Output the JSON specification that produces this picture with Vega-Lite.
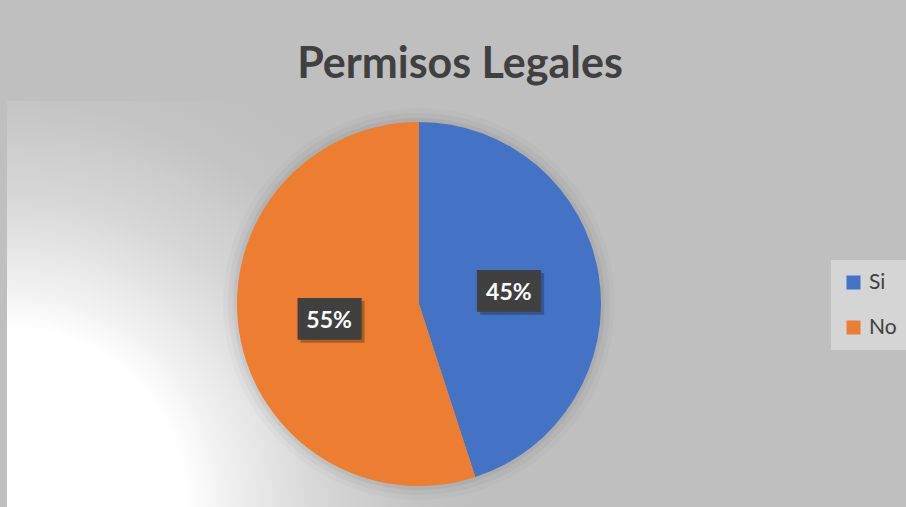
{
  "$schema": "https://vega.github.io/schema/vega-lite/v6.json",
  "autosize": {"type": "none"},
  "width": 824,
  "height": 406,
  "padding": {"left": 7, "top": 101, "right": 75, "bottom": 0},
  "background": "#BFBFBF",
  "view": {
    "stroke": null,
    "fill": {
      "gradient": "radial",
      "x1": 0, "y1": 0.746, "r1": 0,
      "x2": 0, "y2": 0.746, "r2": 0.57,
      "stops": [
        {"offset": 0, "color": "#ffffff"},
        {"offset": 0.38, "color": "#ffffff"},
        {"offset": 0.46, "color": "#f2f2f2"},
        {"offset": 0.653, "color": "#d8d8d8"},
        {"offset": 0.866, "color": "#c4c4c4"},
        {"offset": 1, "color": "#bfbfbf"}
      ]
    }
  },
  "title": {
    "text": "Permisos Legales",
    "font": "Lato",
    "fontSize": 43,
    "fontWeight": "bold",
    "color": "#404040",
    "anchor": "middle",
    "frame": "group",
    "dx": 41,
    "dy": 42,
    "baseline": "alphabetic",
    "offset": 22
  },
  "data": {
    "values": [
      {"categoria": "Si", "valor": 45, "etiqueta": "45%", "orden": 1},
      {"categoria": "No", "valor": 55, "etiqueta": "55%", "orden": 2}
    ]
  },
  "encoding": {
    "theta": {"field": "valor", "type": "quantitative", "stack": true},
    "order": {"field": "orden", "type": "quantitative"}
  },
  "layer": [
    {"mark": {"type": "arc", "radius": 196, "fill": "#000000", "opacity": 0.02, "strokeWidth": 0}},
    {"mark": {"type": "arc", "radius": 191, "fill": "#000000", "opacity": 0.03, "strokeWidth": 0}},
    {"mark": {"type": "arc", "radius": 186, "fill": "#000000", "opacity": 0.045, "strokeWidth": 0}},
    {
      "mark": {"type": "arc", "radius": 182, "strokeWidth": 0},
      "encoding": {
        "color": {
          "field": "categoria",
          "type": "nominal",
          "scale": {"domain": ["Si", "No"], "range": ["#4472C4", "#ED7D31"]},
          "legend": {
            "title": null,
            "orient": "none",
            "legendX": 824,
            "legendY": 159,
            "fillColor": "#D5D5D5",
            "padding": 12,
            "symbolType": "square",
            "symbolSize": 196,
            "symbolStrokeWidth": 0,
            "labelFont": "Lato",
            "labelFontSize": 21,
            "labelColor": "#404040",
            "rowPadding": 23,
            "labelOffset": 5
          }
        }
      }
    },
    {
      "mark": {"type": "text", "radius": 91, "font": "DejaVu Sans Mono", "fontSize": 35, "color": "#000000", "opacity": 0.25, "baseline": "middle", "align": "center", "dx": 3, "dy": 5},
      "encoding": {"text": {"value": "███"}}
    },
    {
      "mark": {"type": "text", "radius": 91, "font": "DejaVu Sans Mono", "fontSize": 35, "color": "#404040", "baseline": "middle", "align": "center", "dy": 2},
      "encoding": {"text": {"value": "███"}}
    },
    {
      "mark": {"type": "text", "radius": 91, "font": "Lato", "fontSize": 23, "fontWeight": "bold", "color": "#ffffff", "baseline": "middle", "align": "center", "dy": 3},
      "encoding": {"text": {"field": "etiqueta", "type": "nominal"}}
    }
  ]
}
